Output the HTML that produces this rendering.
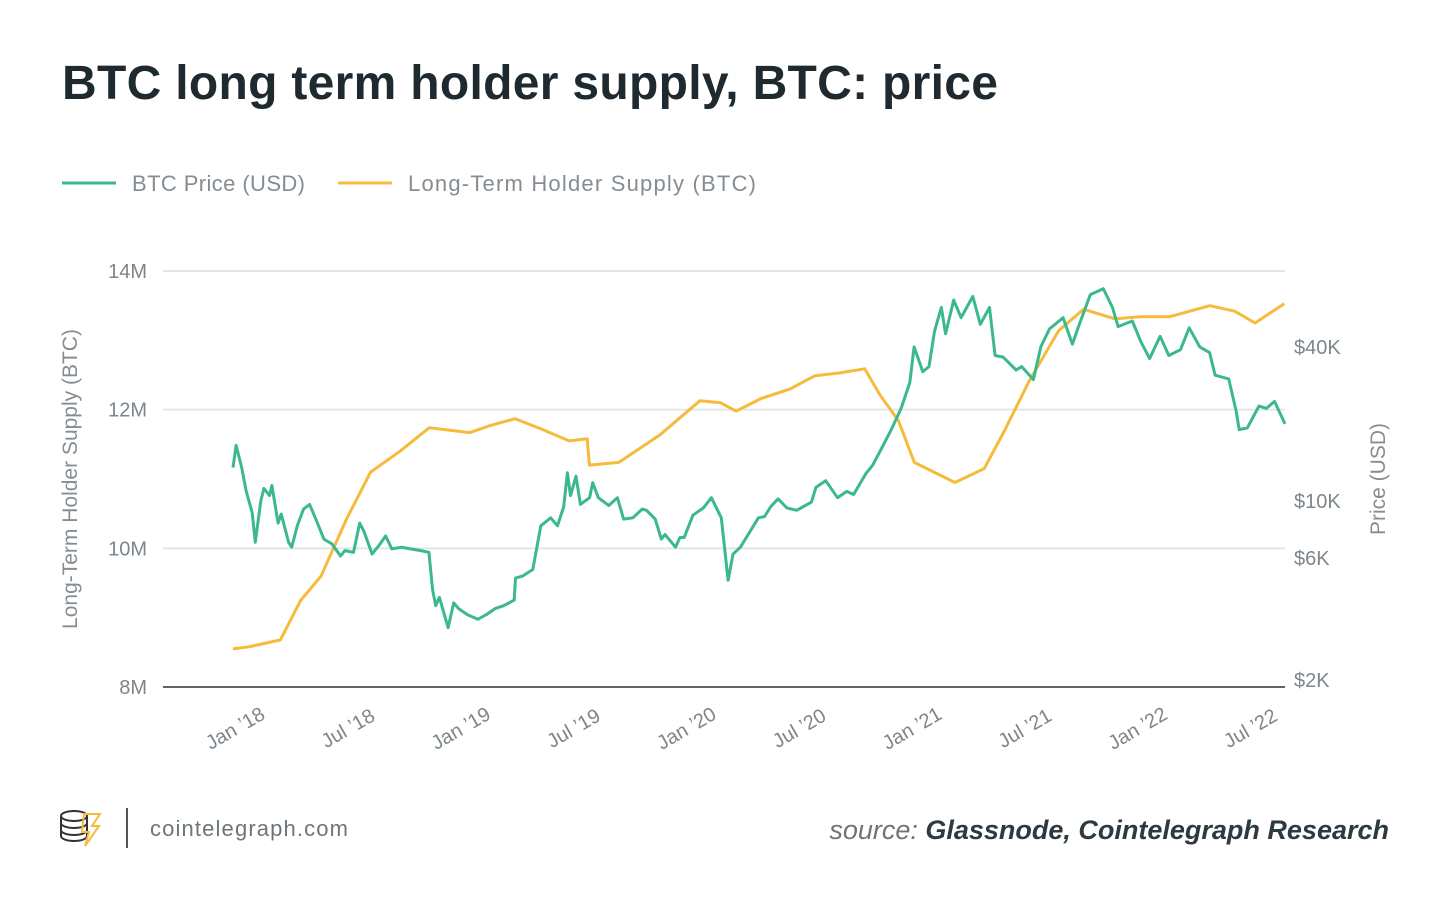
<!DOCTYPE html>
<html><head><meta charset="utf-8"><style>
body{margin:0;background:#fff;width:1450px;height:909px;overflow:hidden;font-family:"Liberation Sans",sans-serif;}
svg text{font-family:"Liberation Sans",sans-serif;}
</style></head><body>
<svg id="chart" width="1450" height="909">
<text x="62" y="99" font-size="48" font-weight="bold" fill="#1e2a30" textLength="936">BTC long term holder supply, BTC: price</text>
<g>
<line x1="62" y1="183" x2="116" y2="183" stroke="#3cb88e" stroke-width="3"/>
<text x="132" y="191" font-size="22" fill="#858d93" textLength="173">BTC Price (USD)</text>
<line x1="338" y1="183" x2="392" y2="183" stroke="#f6bb3c" stroke-width="3"/>
<text x="408" y="191" font-size="22" fill="#858d93" textLength="348">Long-Term Holder Supply (BTC)</text>
</g>
<g id="grid"></g><g id="axes"></g><g id="series"></g>
<text transform="translate(77,479) rotate(-90)" text-anchor="middle" font-size="21" fill="#858d93">Long-Term Holder Supply (BTC)</text>
<text transform="translate(1385,479) rotate(-90)" text-anchor="middle" font-size="21" fill="#858d93">Price (USD)</text>
<g>
<ellipse cx="74" cy="816" rx="13" ry="5" fill="none" stroke="#333" stroke-width="2"/>
<path d="M61 816 v20 a13 5 0 0 0 26 0 v-20" fill="none" stroke="#333" stroke-width="2"/>
<path d="M61 823 a13 5 0 0 0 26 0 M61 830 a13 5 0 0 0 26 0" fill="none" stroke="#333" stroke-width="2"/>
<path d="M84 814 h16 l-8 12 h7 l-14 20 l4 -14 h-7 z" fill="none" stroke="#f6bb3c" stroke-width="2"/>
</g>
<line x1="127" y1="808" x2="127" y2="848" stroke="#555" stroke-width="2"/>
<text x="150" y="836" font-size="22" fill="#6c757b" textLength="198">cointelegraph.com</text>
<text x="1389" y="839" text-anchor="end" font-size="27" font-style="italic"><tspan fill="#6c757b">source:  </tspan><tspan fill="#2d3a40" font-weight="bold">Glassnode, Cointelegraph Research</tspan></text>
</svg>
<script>
const supplyDates=[2018.00,2018.07,2018.21,2018.30,2018.39,2018.50,2018.61,2018.74,2018.87,2019.05,2019.14,2019.25,2019.36,2019.49,2019.57,2019.58,2019.71,2019.89,2020.07,2020.16,2020.23,2020.34,2020.47,2020.58,2020.69,2020.80,2020.87,2020.95,2021.02,2021.20,2021.33,2021.42,2021.53,2021.66,2021.77,2021.91,2022.02,2022.15,2022.33,2022.44,2022.53,2022.66];
const supplyValues=[8.55,8.58,8.68,9.25,9.6,10.4,11.1,11.4,11.74,11.67,11.77,11.87,11.73,11.55,11.58,11.2,11.24,11.63,12.13,12.1,11.98,12.16,12.3,12.49,12.53,12.59,12.2,11.84,11.24,10.95,11.15,11.7,12.42,13.14,13.45,13.31,13.34,13.34,13.5,13.42,13.25,13.53];
const priceDates=["2018-01-01","2018-01-06","2018-01-15","2018-01-22","2018-02-01","2018-02-06","2018-02-15","2018-02-20","2018-03-01","2018-03-05","2018-03-15","2018-03-20","2018-04-01","2018-04-06","2018-04-15","2018-04-25","2018-05-05","2018-05-15","2018-05-28","2018-06-10","2018-06-24","2018-07-01","2018-07-15","2018-07-25","2018-08-01","2018-08-14","2018-08-25","2018-09-05","2018-09-15","2018-10-01","2018-10-15","2018-11-01","2018-11-14","2018-11-20","2018-11-25","2018-12-01","2018-12-15","2018-12-24","2019-01-01","2019-01-15","2019-02-01","2019-02-15","2019-03-01","2019-03-15","2019-04-01","2019-04-03","2019-04-15","2019-05-01","2019-05-14","2019-05-30","2019-06-10","2019-06-20","2019-06-26","2019-07-01","2019-07-10","2019-07-17","2019-08-01","2019-08-06","2019-08-15","2019-09-01","2019-09-15","2019-09-25","2019-10-10","2019-10-25","2019-11-01","2019-11-15","2019-11-25","2019-12-01","2019-12-18","2019-12-25","2020-01-01","2020-01-15","2020-02-01","2020-02-14","2020-03-01","2020-03-12","2020-03-20","2020-04-01","2020-04-30","2020-05-10","2020-05-20","2020-06-01","2020-06-15","2020-07-01","2020-07-25","2020-08-01","2020-08-17","2020-09-05","2020-09-20","2020-10-01","2020-10-21","2020-11-01","2020-11-15","2020-12-01","2020-12-17","2021-01-01","2021-01-08","2021-01-22","2021-02-01","2021-02-10","2021-02-21","2021-02-28","2021-03-13","2021-03-25","2021-04-13","2021-04-25","2021-05-10","2021-05-19","2021-06-01","2021-06-22","2021-07-01","2021-07-20","2021-08-01","2021-08-15","2021-09-06","2021-09-21","2021-10-01","2021-10-20","2021-11-10","2021-11-25","2021-12-04","2021-12-27","2022-01-10","2022-01-24","2022-02-10","2022-02-24","2022-03-15","2022-03-29","2022-04-15","2022-05-01","2022-05-10","2022-06-01","2022-06-13","2022-06-18","2022-07-01","2022-07-20","2022-08-01","2022-08-14","2022-08-25","2022-08-31"];
const priceValues=[13500,16500,13500,11000,9000,6900,10000,11200,10500,11500,8200,8900,6900,6600,8000,9300,9700,8500,7100,6800,6100,6400,6300,8200,7600,6200,6700,7300,6500,6600,6500,6400,6300,4500,3900,4200,3200,4000,3800,3600,3450,3600,3800,3900,4100,5000,5100,5400,8000,8600,8000,9500,12900,10500,12500,9700,10300,11800,10300,9600,10300,8500,8600,9300,9200,8500,7100,7400,6600,7200,7200,8800,9400,10300,8600,4900,6200,6600,8600,8700,9500,10200,9400,9200,9900,11300,12000,10300,10900,10600,12800,13800,16000,19000,23000,29000,40000,32000,33500,46000,57000,45000,61000,52000,63000,49000,57000,37000,36500,32500,33500,29800,40000,47000,52000,41000,48000,64000,67500,57000,48000,50500,41800,36000,44000,37000,39000,47500,40000,38000,31000,30000,22500,19000,19300,23500,23000,24500,21500,20000];
const leftTicks=[8,10,12,14];
const leftTickLabels=["8M","10M","12M","14M"];
const rightTicks=[2000,6000,10000,40000];
const rightTickLabels=["$2K","$6K","$10K","$40K"];
const xTicks=[2018,2018.5,2019,2019.5,2020,2020.5,2021,2021.5,2022,2022.5];
const xTickLabels=["Jan ’18","Jul ’18","Jan ’19","Jul ’19","Jan ’20","Jul ’20","Jan ’21","Jul ’21","Jan ’22","Jul ’22"];

const NS="http://www.w3.org/2000/svg";
const X0=163,X1=1285;
const xS=t=>233+(t-2018)*225.6;
const yL=v=>687-(v-8)*69.33;
const yR=p=>501-256*(Math.log10(p)-4);
const toYear=s=>{const d=new Date(s+"T00:00:00Z");const y=d.getUTCFullYear();return y+(d-Date.UTC(y,0,1))/(365*864e5);};
function mk(tag,attrs,parent){const e=document.createElementNS(NS,tag);for(const k in attrs)e.setAttribute(k,attrs[k]);parent.appendChild(e);return e;}
const grid=document.getElementById('grid'),axes=document.getElementById('axes'),series=document.getElementById('series');
leftTicks.forEach((v,i)=>{
  const ln=mk('line',{x1:X0,x2:X1,y1:yL(v),y2:yL(v),stroke:i===0?'#5c666c':'#e3e6e8','stroke-width':2},grid);
  
  
  const t=mk('text',{x:147,y:yL(v)+7,'text-anchor':'end','font-size':20,fill:'#7d868c'},axes);
  t.textContent=leftTickLabels[i];
  
  
});
rightTicks.forEach((p,i)=>{
  const t=mk('text',{x:1294,y:yR(p)+7,'font-size':20,fill:'#7d868c'},axes);
  t.textContent=rightTickLabels[i];
  
  
});
xTicks.forEach((v,i)=>{
  const x=xS(v)+2;
  const t=mk('text',{x:x,y:735,'text-anchor':'middle','font-size':20,fill:'#7d868c',transform:`rotate(-30 ${x} 728)`},axes);
  t.textContent=xTickLabels[i];
  
  
});
const sp=supplyDates.map((d,i)=>xS(d).toFixed(1)+','+yL(supplyValues[i]).toFixed(1)).join(' ');
const sl=mk('polyline',{points:sp,fill:'none',stroke:'#f6bb3c','stroke-width':3,'stroke-linejoin':'round'},series);


const pp=priceDates.map((d,i)=>xS(toYear(d)).toFixed(1)+','+yR(priceValues[i]).toFixed(1)).join(' ');
const pl=mk('polyline',{points:pp,fill:'none',stroke:'#3cb88e','stroke-width':3,'stroke-linejoin':'round'},series);


</script>
</body></html>
